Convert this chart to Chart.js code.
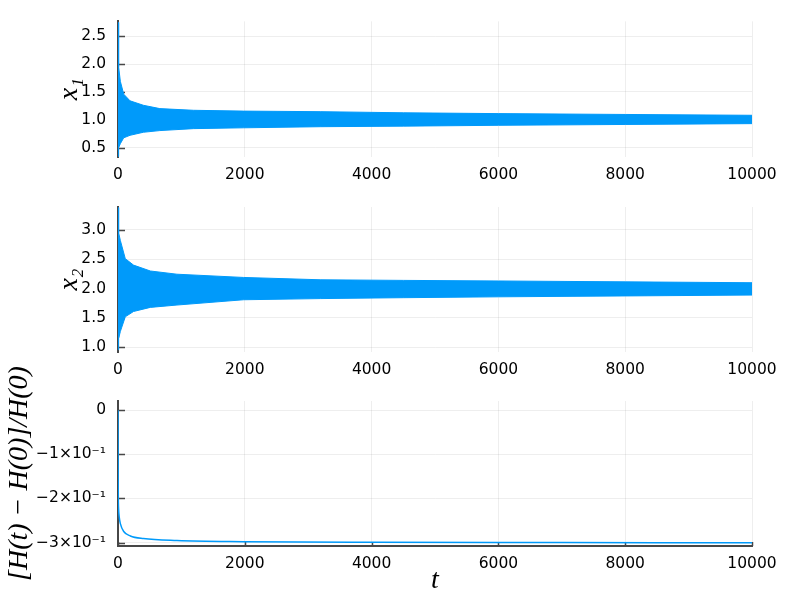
<!DOCTYPE html>
<html>
<head>
<meta charset="utf-8">
<script src="https://cdn.jsdelivr.net/npm/chart.js@4/dist/chart.umd.min.js"></script>
<style>
  body { margin: 0; background: #fff; }
  #wrap { position: relative; width: 800px; height: 600px; }
  canvas { position: absolute; left: 0; top: 0; }
</style>
</head>
<body>
<div id="wrap">
  <canvas id="c1" width="800" height="600"></canvas>
  <canvas id="c2" width="800" height="600"></canvas>
  <canvas id="c3" width="800" height="600"></canvas>
</div>
<script>
/* dados: envelope das oscilações de x1 e x2, e erro relativo de H */
const t1 = [0, 5, 15, 37, 90, 190, 400, 660, 1190, 1980, 3200, 4500, 6000, 8000, 10000];
const x1Sup = [2.75, 2.25, 1.95, 1.69, 1.46, 1.34, 1.26, 1.20, 1.17, 1.155, 1.145, 1.125, 1.11, 1.095, 1.08];
const x1Inf = [0.34, 0.42, 0.50, 0.57, 0.675, 0.72, 0.775, 0.805, 0.84, 0.855, 0.875, 0.885, 0.90, 0.915, 0.93];

const t2 = [0, 5, 15, 37, 115, 245, 510, 930, 1980, 3200, 4500, 6000, 8000, 10000];
const x2Sup = [3.38, 3.10, 2.95, 2.82, 2.51, 2.40, 2.30, 2.245, 2.19, 2.15, 2.14, 2.13, 2.115, 2.10];
const x2Inf = [0.96, 1.05, 1.15, 1.27, 1.52, 1.61, 1.68, 1.72, 1.81, 1.83, 1.845, 1.86, 1.875, 1.89];

const t3 = [0, 1, 3, 5, 10, 20, 37, 90, 195, 400, 930, 1980, 4000, 7000, 10000];
const erroH = [0, -0.08, -0.16, -0.20, -0.225, -0.243, -0.257, -0.275, -0.285, -0.291, -0.2955, -0.298, -0.2995, -0.300, -0.3005];

/* ticks */
const xTicks = [0, 2000, 4000, 6000, 8000, 10000];
const y1Ticks = [0.5, 1.0, 1.5, 2.0, 2.5];
const y2Ticks = [1.0, 1.5, 2.0, 2.5, 3.0];
const y3Ticks = [0, -0.1, -0.2, -0.3];
const y3Labels = ["0", "\u22121\u00d710\u207b\u00b9", "\u22122\u00d710\u207b\u00b9", "\u22123\u00d710\u207b\u00b9"];

const azul = "#009AFA";
const eixoCor = "#474747";
const gradeCor = "rgba(0,0,0,0.065)";
const fonteTicks = { family: "DejaVu Sans", size: 15.5 };
const fonteTitulo = { family: "Liberation Serif", size: 28, style: "italic" };

function pontos(xs, ys) { // junta os arrays em {x,y}
  return xs.map((x, i) => ({ x: x, y: ys[i] }));
}

/* marcas dos ticks para dentro do gráfico */
const marcas = {
  id: "marcas",
  beforeDatasetsDraw(chart, args, opts) {
    const ctx = chart.ctx;
    const a = chart.chartArea;
    ctx.save();
    ctx.strokeStyle = eixoCor;
    ctx.lineWidth = 1.5;
    chart.scales.y.ticks.forEach(t => {
      const py = Math.round(chart.scales.y.getPixelForValue(t.value)) + 0.5;
      ctx.beginPath(); ctx.moveTo(a.left, py); ctx.lineTo(a.left + 7, py); ctx.stroke();
    });
    if (opts.xMarcas) {
      chart.scales.x.ticks.forEach(t => {
        const px = Math.round(chart.scales.x.getPixelForValue(t.value)) + 0.5;
        ctx.beginPath(); ctx.moveTo(px, a.bottom); ctx.lineTo(px, a.bottom - 4); ctx.stroke();
      });
    }
    ctx.restore();
  }
};

function eixoX(altura, mostraBorda, titulo) {
  return {
    type: "linear",
    min: 0, max: 10000,
    afterFit: s => { s.height = altura; },
    afterBuildTicks: s => { s.ticks = xTicks.map(v => ({ value: v })); },
    grid: { color: gradeCor, drawTicks: false },
    border: { display: mostraBorda, color: eixoCor, width: 2 },
    ticks: { color: "#000", font: fonteTicks, padding: 9, autoSkip: false, maxRotation: 0,
             callback: v => String(v) },
    title: { display: !!titulo, text: titulo || "", color: "#000", font: fonteTitulo,
             padding: { top: 0, bottom: 3 } }
  };
}

function eixoY(min, max, ticks, fmt, titulo, tituloPad) {
  return {
    min: min, max: max,
    afterFit: s => { s.width = 118; },
    afterBuildTicks: s => { s.ticks = ticks.map(v => ({ value: v })); },
    grid: { color: gradeCor, drawTicks: false },
    border: { display: true, color: eixoCor, width: 2 },
    ticks: { color: "#000", font: fonteTicks, padding: 12, callback: fmt },
    title: { display: true, text: titulo, color: "#000", font: fonteTitulo,
             padding: { top: tituloPad, bottom: 0 } }
  };
}

function faixa(xs, inf, sup) { // banda preenchida entre envelope inferior e superior
  return [
    { data: pontos(xs, inf), borderColor: azul, borderWidth: 1, pointRadius: 0, fill: false },
    { data: pontos(xs, sup), borderColor: azul, borderWidth: 1, pointRadius: 0,
      backgroundColor: azul, fill: "-1" }
  ];
}

const baseOpts = {
  responsive: false,
  animation: false,
  parsing: false,
  plugins: { legend: { display: false }, tooltip: { enabled: false } }
};

/* gráfico 1 : x1 */
new Chart(document.getElementById("c1"), {
  type: "line",
  data: { datasets: faixa(t1, x1Inf, x1Sup) },
  options: Object.assign({}, baseOpts, {
    layout: { padding: { top: 12, bottom: 600 - 157 - 30, left: 0, right: 48 } },
    scales: {
      x: eixoX(30, false),
      y: eixoY(0.33, 2.77, y1Ticks, v => v.toFixed(1), "x\u2081", 53)
    }
  }),
  plugins: [marcas]
});

/* gráfico 2 : x2 */
new Chart(document.getElementById("c2"), {
  type: "line",
  data: { datasets: faixa(t2, x2Inf, x2Sup) },
  options: Object.assign({}, baseOpts, {
    layout: { padding: { top: 207, bottom: 600 - 352 - 30, left: 0, right: 48 } },
    scales: {
      x: eixoX(30, false),
      y: eixoY(0.92, 3.39, y2Ticks, v => v.toFixed(1), "x\u2082", 53)
    }
  }),
  plugins: [marcas]
});

/* gráfico 3 : erro relativo da energia */
new Chart(document.getElementById("c3"), {
  type: "line",
  data: {
    datasets: [{
      data: pontos(t3, erroH), borderColor: azul, borderWidth: 1.5, pointRadius: 0,
      fill: false, cubicInterpolationMode: "monotone"
    }]
  },
  options: Object.assign({}, baseOpts, {
    layout: { padding: { top: 401, bottom: 0, left: 0, right: 48 } },
    scales: {
      x: eixoX(54, true, "t"),
      y: eixoY(-0.3078, 0.021, y3Ticks, (v, i) => y3Labels[i], "[H(t) \u2212 H(0)]/H(0)", 3)
    },
    plugins: Object.assign({}, baseOpts.plugins, { marcas: { xMarcas: true } })
  }),
  plugins: [marcas]
});
</script>
</body>
</html>
